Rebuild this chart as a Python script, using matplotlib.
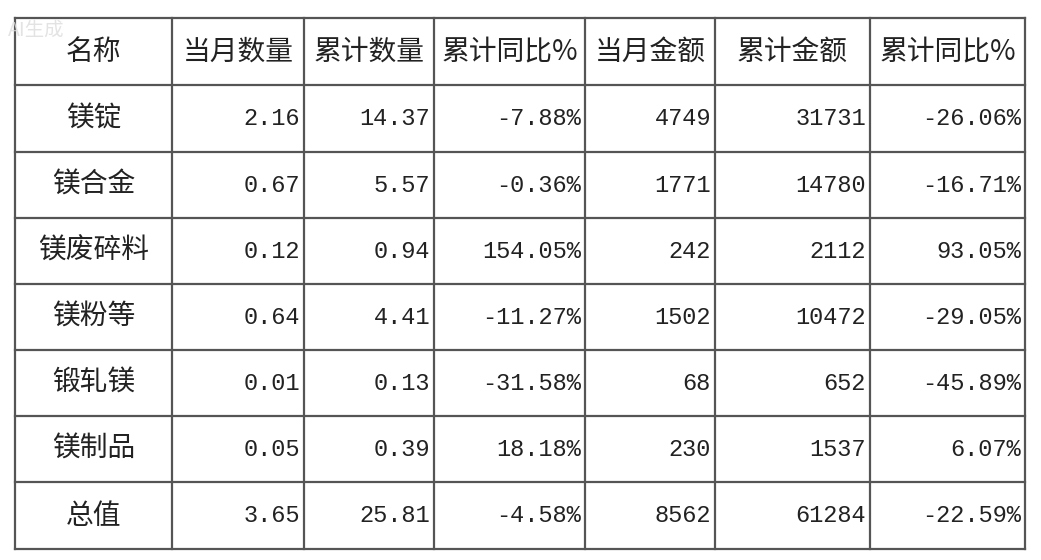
import matplotlib.pyplot as plt

plt.rcParams['font.family'] = ['Noto Sans CJK SC', 'DejaVu Sans']

headers = ["名称", "当月数量", "累计数量", "累计同比%", "当月金额", "累计金额", "累计同比%"]
names = ["镁锭", "镁合金", "镁废碎料", "镁粉等", "锻轧镁", "镁制品", "总值"]
month_qty = ["2.16", "0.67", "0.12", "0.64", "0.01", "0.05", "3.65"]
cum_qty = ["14.37", "5.57", "0.94", "4.41", "0.13", "0.39", "25.81"]
cum_qty_yoy = ["-7.88%", "-0.36%", "154.05%", "-11.27%", "-31.58%", "18.18%", "-4.58%"]
month_amt = ["4749", "1771", "242", "1502", "68", "230", "8562"]
cum_amt = ["31731", "14780", "2112", "10472", "652", "1537", "61284"]
cum_amt_yoy = ["-26.06%", "-16.71%", "93.05%", "-29.05%", "-45.89%", "6.07%", "-22.59%"]

col_x = [15, 172, 304, 434, 585, 715, 870, 1025]
row_y = [18, 85, 152, 218, 284, 350, 416, 482, 549]

fig = plt.figure(figsize=(10.41, 5.6), dpi=100)
ax = fig.add_axes([0, 0, 1, 1])
ax.set_xlim(0, 1041)
ax.set_ylim(560, 0)
ax.axis('off')

for x in col_x:
    ax.plot([x, x], [row_y[0], row_y[-1]], color='#555555', lw=1.6)
for y in row_y:
    ax.plot([col_x[0], col_x[-1]], [y, y], color='#555555', lw=1.6)

fs = 20
for j, h in enumerate(headers):
    cy = (row_y[0] + row_y[1]) / 2
    ax.text((col_x[j] + col_x[j + 1]) / 2, cy, h, ha='center', va='center',
            fontsize=fs, color='#222222')

columns = [month_qty, cum_qty, cum_qty_yoy, month_amt, cum_amt, cum_amt_yoy]
for i, name in enumerate(names):
    cy = (row_y[i + 1] + row_y[i + 2]) / 2
    ax.text((col_x[0] + col_x[1]) / 2, cy, name, ha='center', va='center',
            fontsize=fs, color='#222222')
    for j, col in enumerate(columns):
        ax.text(col_x[j + 2] - 4, cy, col[i], ha='right', va='center',
                fontsize=17, color='#222222', family=['Liberation Mono', 'DejaVu Sans Mono'])

ax.text(8, 30, "AI生成", fontsize=14, color='#dddddd', ha='left', va='center', alpha=0.8)

fig.savefig("out.png", dpi=100, facecolor='white')
